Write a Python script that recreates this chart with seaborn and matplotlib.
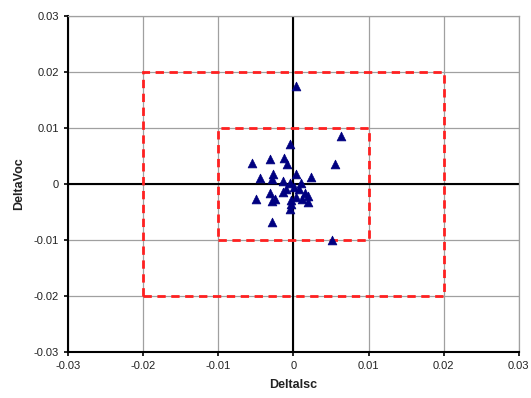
import matplotlib

matplotlib.use("Agg")
import matplotlib.pyplot as plt
import matplotlib.patches as mpatches
import pandas as pd
import seaborn as sns

# values
delta_isc = [
    0.0004, 0.0064, 0.0052,
    -0.0004, -0.0055, -0.0031, -0.0013, -0.0009, 0.0056,
    -0.0045, -0.0027, -0.0028, -0.0014, 0.0004, 0.0024,
    -0.0005, 0.0010, -0.0010, 0.0008, 0.0015, 0.0020, 0.0020,
    -0.0050, -0.0031, -0.0028, -0.0024, -0.0014, -0.0003,
    -0.0003, -0.0005, 0.0004, 0.0012, -0.0028, 0.0001,
]
delta_voc = [
    0.0175, 0.0086, -0.0101,
    0.0071, 0.0037, 0.0045, 0.0046, 0.0035, 0.0035,
    0.0010, 0.0018, 0.0009, 0.0006, 0.0017, 0.0013,
    0.0001, 0.0001, -0.0009, -0.0009, -0.0017, -0.0021, -0.0033,
    -0.0027, -0.0017, -0.0030, -0.0027, -0.0015, -0.0029,
    -0.0036, -0.0045, -0.0024, -0.0027, -0.0068, -0.0006,
]
box_half_sizes = [0.01, 0.02]
ticks = [-0.03, -0.02, -0.01, 0, 0.01, 0.02, 0.03]
tick_labels = ["-0.03", "-0.02", "-0.01", "0", "0.01", "0.02", "0.03"]

df = pd.DataFrame({"DeltaIsc": delta_isc, "DeltaVoc": delta_voc})

sns.set_style("white")
plt.rcParams["font.family"] = ["Liberation Sans", "DejaVu Sans"]

fig = plt.figure(figsize=(5.31, 3.98), dpi=100)
ax = fig.add_axes([0.128, 0.116, 0.849, 0.844])

for t in ticks:
    ax.axvline(t, color="#a0a0a0", lw=0.9, zorder=0)
    ax.axhline(t, color="#a0a0a0", lw=0.9, zorder=0)
ax.axvline(0, color="black", lw=1.5, zorder=1)
ax.axhline(0, color="black", lw=1.5, zorder=1)

for h in box_half_sizes:
    ax.add_patch(mpatches.Rectangle((-h, -h), 2 * h, 2 * h, fill=False,
                                    edgecolor="#ff2020", lw=2, ls=(0, (3, 2)), zorder=2))

sns.scatterplot(data=df, x="DeltaIsc", y="DeltaVoc", marker="^", color="#000080",
                s=40, edgecolor="#000080", linewidth=0.5, ax=ax, zorder=3)

ax.set_xlim(-0.03, 0.03)
ax.set_ylim(-0.03, 0.03)
ax.set_xticks(ticks, tick_labels, fontsize=8, color="#222222")
ax.set_yticks(ticks, tick_labels, fontsize=8, color="#222222")
ax.tick_params(direction="out", length=3, width=1.2, color="black", bottom=True, left=True)
ax.set_xlabel("DeltaIsc", fontsize=9, fontweight="bold", color="#222222", labelpad=6)
ax.set_ylabel("DeltaVoc", fontsize=9, fontweight="bold", color="#222222", labelpad=6)

for side in ["left", "bottom"]:
    ax.spines[side].set_color("black")
    ax.spines[side].set_linewidth(1.5)
for side in ["top", "right"]:
    ax.spines[side].set_color("#a0a0a0")
    ax.spines[side].set_linewidth(0.9)

fig.savefig("out.png", dpi=100)
